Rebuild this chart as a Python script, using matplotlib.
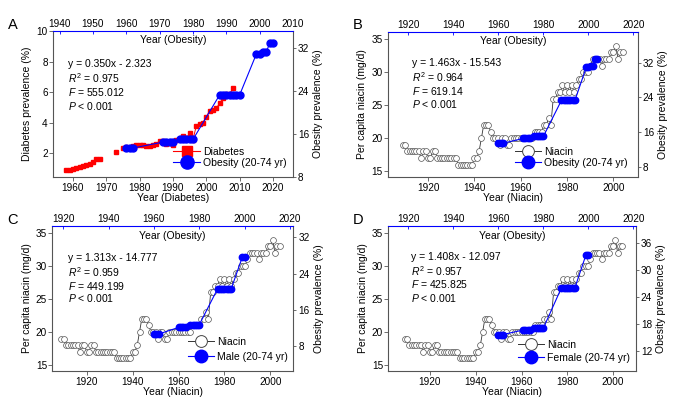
import numpy as np
import matplotlib
matplotlib.use('Agg')
import matplotlib.pyplot as plt
from matplotlib.lines import Line2D

plt.rcParams['font.family'] = ['Liberation Sans', 'DejaVu Sans']
plt.rcParams['mathtext.fontset'] = 'custom'
plt.rcParams['mathtext.rm'] = 'Liberation Sans'
plt.rcParams['mathtext.it'] = 'Liberation Sans:italic'

# ===== data
diabetes_years = [1958, 1959, 1960, 1961, 1962, 1963, 1964, 1965, 1966, 1967, 1968,
                  1973, 1975, 1976, 1977, 1978, 1979, 1980, 1981, 1982, 1983, 1984,
                  1985, 1986, 1987, 1988, 1989, 1990, 1991, 1992, 1993, 1994, 1995,
                  1996, 1997, 1998, 1999, 2000, 2001, 2002, 2003, 2004, 2005, 2006,
                  2007, 2008]
diabetes_prev = [0.93, 0.90, 0.95, 1.05, 1.10, 1.17, 1.22, 1.30, 1.45, 1.62, 1.63,
                 2.06, 2.33, 2.42, 2.36, 2.48, 2.52, 2.55, 2.55, 2.50, 2.45, 2.55,
                 2.60, 2.78, 2.80, 2.60, 2.70, 2.55, 2.90, 2.92, 3.10, 3.00, 3.30,
                 2.90, 3.80, 3.90, 4.00, 4.40, 4.77, 4.85, 4.95, 5.27, 5.60, 5.90,
                 5.85, 6.30]

niacin_years = list(range(1909, 2005))
niacin = [19, 19, 18, 18, 18, 18, 18, 18, 17, 18,   # 1909-1918
          18, 17, 17, 18, 18, 17, 17, 17, 17, 17,   # 1919-1928
          17, 17, 17, 17, 16, 16, 16, 16, 16, 16,   # 1929-1938
          16, 17, 17, 18, 20, 22, 22, 22, 21, 20,   # 1939-1948
          20, 20, 19, 20, 20, 19, 19, 20, 20, 20,   # 1949-1958
          20, 20, 20, 20, 20, 20, 20, 21, 21, 21,   # 1959-1968
          21, 22, 22, 23, 22, 26, 26, 27, 27, 28,   # 1969-1978
          27, 28, 27, 28, 27, 28, 29, 29, 30, 30,   # 1979-1988
          30, 31, 32, 32, 32, 32, 31, 32, 32, 32,   # 1989-1998
          33, 33, 34, 32, 33, 33]                   # 1999-2004

# NHANES survey years, every year of a survey period gets the period's value
obesity_years = [1960, 1961, 1962, 1971, 1972, 1973, 1974, 1976, 1977, 1978, 1979, 1980,
                 1988, 1989, 1990, 1991, 1992, 1993, 1994, 1999, 2000, 2001, 2002, 2003, 2004]
obesity_all = [13.4, 13.4, 13.4, 14.5, 14.5, 14.5, 14.5, 15.0, 15.0, 15.0, 15.0, 15.0,
               23.3, 23.3, 23.3, 23.3, 23.3, 23.3, 23.3, 30.9, 30.9, 31.3, 31.3, 32.9, 32.9]
sex_years = [1960, 1961, 1962, 1971, 1972, 1973, 1974, 1976, 1977, 1978, 1979, 1980,
             1988, 1989, 1990, 1991, 1992, 1993, 1994, 1999, 2000]
obesity_male = [10.7, 10.7, 10.7, 12.2, 12.2, 12.2, 12.2, 12.8, 12.8, 12.8, 12.8, 12.8,
                20.6, 20.6, 20.6, 20.6, 20.6, 20.6, 20.6, 27.7, 27.7]
obesity_female = [15.7, 15.7, 15.7, 16.7, 16.7, 16.7, 16.7, 17.1, 17.1, 17.1, 17.1, 17.1,
                  26.0, 26.0, 26.0, 26.0, 26.0, 26.0, 26.0, 33.4, 33.4]

stats_a = ['y = 0.350x - 2.323', r'$\mathit{R}^2$ = 0.975', r'$\mathit{F}$ = 555.012', r'$\mathit{P}$ < 0.001']
stats_b = ['y = 1.463x - 15.543', r'$\mathit{R}^2$ = 0.964', r'$\mathit{F}$ = 619.14', r'$\mathit{P}$ < 0.001']
stats_c = ['y = 1.313x - 14.777', r'$\mathit{R}^2$ = 0.959', r'$\mathit{F}$ = 449.199', r'$\mathit{P}$ < 0.001']
stats_d = ['y = 1.408x - 12.097', r'$\mathit{R}^2$ = 0.957', r'$\mathit{F}$ = 425.825', r'$\mathit{P}$ < 0.001']

W, H = 685, 411
GRAY = '#555555'
RED = '#ff0000'
BLUE = '#0000ff'
FS = 7.5


def fx(x):
    return x / W


def fy(y):
    return 1 - y / H


def make_axes(fig, l, t, r, b, name):
    rect = [fx(l), fy(b), (r - l) / W, (b - t) / H]
    ax = fig.add_axes(rect)
    ax2 = fig.add_axes(rect, label=name)
    ax2.patch.set_visible(False)
    ax2.xaxis.tick_top()
    ax2.xaxis.set_label_position('top')
    ax2.yaxis.tick_right()
    ax2.yaxis.set_label_position('right')
    for s in ['top', 'right']:
        ax.spines[s].set_visible(False)
    for s in ['left', 'bottom']:
        ax2.spines[s].set_visible(False)
        ax.spines[s].set_color(GRAY)
        ax.spines[s].set_linewidth(0.8)
    ax2.spines['right'].set_color(GRAY)
    ax2.spines['right'].set_linewidth(0.8)
    ax2.spines['top'].set_color(BLUE)
    ax2.spines['top'].set_linewidth(0.8)
    ax.tick_params(axis='y', direction='out', length=3, width=0.6, color=GRAY, labelsize=7.2, pad=0.8)
    ax.tick_params(axis='x', direction='out', length=3, width=0.6, color=GRAY, labelsize=7.2, pad=1.5)
    ax2.tick_params(axis='y', direction='out', length=2.5, width=0.6, color=GRAY, labelsize=7.2, pad=1)
    ax2.tick_params(axis='x', direction='in', length=2, width=0.6, color=BLUE, labelsize=7.2, pad=1.5)
    return ax, ax2


def add_stats(fig, x, ys, lines):
    for y, s in zip(ys, lines):
        fig.text(fx(x), fy(y), s, fontsize=FS, va='center', ha='left')


def add_legend(fig, ax2, handles, labels, x, y, hl, spacing):
    ax2.legend(handles, labels, loc='center left', bbox_to_anchor=(fx(x), fy(y)),
               bbox_transform=fig.transFigure, frameon=False, fontsize=FS,
               borderpad=0, borderaxespad=0, handlelength=hl, handletextpad=0.25,
               labelspacing=spacing)


def niacin_panel(fig, l, t, r, b, name, ob_years, ob_vals, xlim_b, xlim_t, ylim_r, rticks):
    ax, ax2 = make_axes(fig, l, t, r, b, name)
    ax.plot(niacin_years, niacin, color='#333333', lw=0.6, marker='o', ms=4.2,
            mfc='white', mec='#555555', mew=0.5)
    ax2.plot(ob_years, ob_vals, color=BLUE, lw=0.8, marker='o', ms=4.6, mec=BLUE)
    ax.set_xlim(*xlim_b)
    ax.set_ylim(14.13, 36.1)
    ax.set_xticks([1920, 1940, 1960, 1980, 2000])
    ax.set_yticks([15, 20, 25, 30, 35])
    ax2.set_xlim(*xlim_t)
    ax2.set_xticks([1920, 1940, 1960, 1980, 2000, 2020])
    ax2.set_ylim(*ylim_r)
    ax2.set_yticks(rticks)
    ax.set_xlabel('Year (Niacin)', fontsize=FS, labelpad=0)
    ax.set_ylabel('Per capita niacin (mg/d)', fontsize=FS, labelpad=3)
    ax2.set_ylabel('Obesity prevalence (%)', fontsize=FS, labelpad=3)
    return ax, ax2


fig = plt.figure(figsize=(6.85, 4.11), dpi=100)

# ===== panel A
ax, ax2 = make_axes(fig, 53, 31, 293, 177, 'a')
yrs = np.array(diabetes_years)
vals = np.array(diabetes_prev)
breaks = np.where(np.diff(yrs) > 1)[0] + 1
for seg_x, seg_y in zip(np.split(yrs, breaks), np.split(vals, breaks)):
    ax.plot(seg_x, seg_y, color=RED, lw=0.7, marker='s', ms=3.3, mec=RED)
ax2.plot(obesity_years, obesity_all, color=BLUE, lw=0.8, marker='o', ms=5, mec=BLUE)
ax.set_xlim(1954, 2026)
ax.set_ylim(0.45, 10)
ax.set_xticks([1960, 1970, 1980, 1990, 2000, 2010, 2020])
ax.set_yticks([2, 4, 6, 8, 10])
ax2.set_xlim(1938, 2010)
ax2.set_xticks([1940, 1950, 1960, 1970, 1980, 1990, 2000, 2010])
ax2.set_ylim(8, 35.2)
ax2.set_yticks([8, 16, 24, 32])
ax.set_xlabel('Year (Diabetes)', fontsize=FS, labelpad=0)
ax.set_ylabel('Diabetes prevalence (%)', fontsize=FS, labelpad=3)
ax2.set_ylabel('Obesity prevalence (%)', fontsize=FS, labelpad=3)
h = [Line2D([], [], color=RED, lw=0.8, marker='s', ms=6.5, mec=RED),
     Line2D([], [], color=BLUE, lw=0.8, marker='o', ms=9.5, mec=BLUE)]
add_legend(fig, ax2, h, ['Diabetes', 'Obesity (20-74 yr)'], 173, 157.5, 2.6, 0.12)
add_stats(fig, 68, [64, 78, 92, 106], stats_a)
fig.text(fx(173), fy(40), 'Year (Obesity)', fontsize=FS, ha='center', va='center')
fig.text(fx(13), fy(25), 'A', fontsize=10.5, ha='center', va='center')

# ===== panel B
ax, ax2 = niacin_panel(fig, 388, 32, 638, 177, 'b', obesity_years, obesity_all,
                       (1902.7, 2010.6), (1911, 2022), (5.6, 39.1), [8, 16, 24, 32])
h = [Line2D([], [], color='#333333', lw=0.7, marker='o', ms=8.5, mfc='white', mec='#444444', mew=0.7),
     Line2D([], [], color=BLUE, lw=0.8, marker='o', ms=9, mec=BLUE)]
add_legend(fig, ax2, h, ['Niacin', 'Obesity (20-74 yr)'], 515, 157.5, 2.5, 0.12)
add_stats(fig, 412, [63, 77.5, 91, 104.5], stats_b)
fig.text(fx(513), fy(41), 'Year (Obesity)', fontsize=FS, ha='center', va='center')
fig.text(fx(358), fy(25), 'B', fontsize=10.5, ha='center', va='center')

# ===== panel C
ax, ax2 = niacin_panel(fig, 52.3, 225.7, 293.3, 370.7, 'c', sex_years, obesity_male,
                       (1905, 2010), (1915.2, 2021.4), (2.67, 34.5), [8, 16, 24, 32])
h = [Line2D([], [], color='#333333', lw=0.7, marker='o', ms=8.5, mfc='white', mec='#444444', mew=0.7),
     Line2D([], [], color=BLUE, lw=0.8, marker='o', ms=9, mec=BLUE)]
add_legend(fig, ax2, h, ['Niacin', 'Male (20-74 yr)'], 188, 349.5, 2.5, 0.5)
add_stats(fig, 68, [258, 272.5, 285.5, 298.5], stats_c)
fig.text(fx(172), fy(236), 'Year (Obesity)', fontsize=FS, ha='center', va='center')
fig.text(fx(13), fy(220), 'C', fontsize=10.5, ha='center', va='center')

# ===== panel D
ax, ax2 = niacin_panel(fig, 388.3, 225.7, 636, 370.7, 'd', sex_years, obesity_female,
                       (1901.8, 2010), (1911.1, 2021.2), (7.7, 39.8), [12, 18, 24, 30, 36])
h = [Line2D([], [], color='#333333', lw=0.7, marker='o', ms=8.5, mfc='white', mec='#444444', mew=0.7),
     Line2D([], [], color=BLUE, lw=0.8, marker='o', ms=9, mec=BLUE)]
add_legend(fig, ax2, h, ['Niacin', 'Female (20-74 yr)'], 518, 351.5, 2.5, 0.3)
add_stats(fig, 410.7, [256.7, 271, 284.3, 297.7], stats_d)
fig.text(fx(512), fy(236), 'Year (Obesity)', fontsize=FS, ha='center', va='center')
fig.text(fx(358), fy(220), 'D', fontsize=10.5, ha='center', va='center')

fig.savefig('out.png', dpi=100)
